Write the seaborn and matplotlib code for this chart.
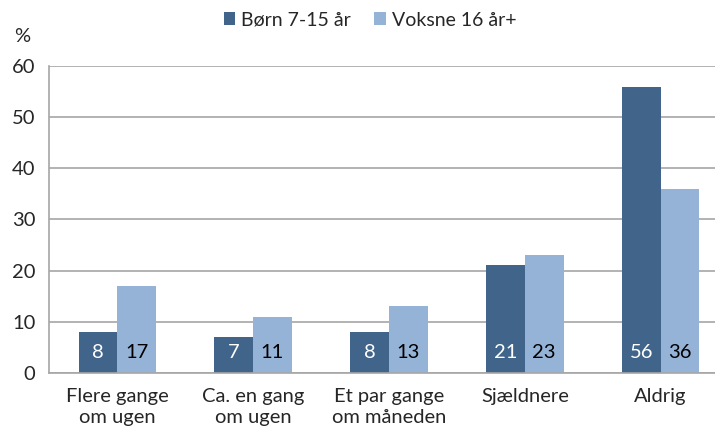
import matplotlib.pyplot as plt
import numpy as np
import pandas as pd
import seaborn as sns

# Data
categories = ['Flere gange\nom ugen', 'Ca. en gang\nom ugen', 'Et par gange\nom måneden',
              'Sjældnere', 'Aldrig']
born = [8, 7, 8, 21, 56]
voksne = [17, 11, 13, 23, 36]
series = ['Børn 7-15 år', 'Voksne 16 år+']

df = pd.DataFrame({
    'kategori': categories * 2,
    'pct': born + voksne,
    'gruppe': [series[0]] * len(categories) + [series[1]] * len(categories),
})

sns.set_style('white')
plt.rcParams['font.family'] = ['Lato', 'DejaVu Sans']

dark = '#41658A'
light = '#95B3D7'
grid_col = '#A6A6A6'
fs = 14.5

fig = plt.figure(figsize=(7.15, 4.29), dpi=100)
# the plot area runs a little past the right edge of the picture
ax = fig.add_axes([0.069, 0.131, 0.95, 0.715])

sns.barplot(data=df, x='kategori', y='pct', hue='gruppe', order=categories,
            hue_order=series, palette=[dark, light], width=0.57, gap=0,
            saturation=1, linewidth=0, edgecolor='none', ax=ax, legend=True)

ax.set_ylim(0, 60)
ax.set_xlim(-0.5, len(categories) - 0.5)
ax.set_yticks(range(0, 61, 10))
ax.yaxis.grid(True, color=grid_col, linewidth=1.2)
ax.set_axisbelow(True)
ax.set_xlabel('')
ax.set_ylabel('')

for s in ['top', 'right']:
    ax.spines[s].set_visible(False)
for s in ['left', 'bottom']:
    ax.spines[s].set_color(grid_col)
    ax.spines[s].set_linewidth(1.2)

ax.tick_params(axis='y', length=6, width=1.2, color=grid_col, labelsize=fs, pad=4)
ax.tick_params(axis='x', which='major', length=0, labelsize=fs, pad=11)
for lbl in ax.get_xticklabels():
    lbl.set_linespacing(1.3)
ax.set_xticks(np.arange(0.5, len(categories) - 1, 1), minor=True)
ax.tick_params(axis='x', which='minor', length=6, width=1.2, color=grid_col)

# value labels
for i, cont in enumerate(ax.containers):
    col = 'white' if i == 0 else 'black'
    for bar, v in zip(cont, [born, voksne][i]):
        ax.text(bar.get_x() + bar.get_width() / 2, 4, str(v), ha='center', va='center',
                color=col, fontsize=fs)

fig.text(22 / 715, 1 - 37 / 429, '%', fontsize=fs, ha='center', va='center')

fig.legend(*ax.get_legend_handles_labels(), loc='center', bbox_to_anchor=(370 / 715, 1 - 20 / 429),
           ncol=2, frameon=False, fontsize=14, handlelength=0.6, handleheight=0.6,
           handletextpad=0.3, columnspacing=1.2)
ax.get_legend().remove()

fig.savefig('out.png', dpi=100)
